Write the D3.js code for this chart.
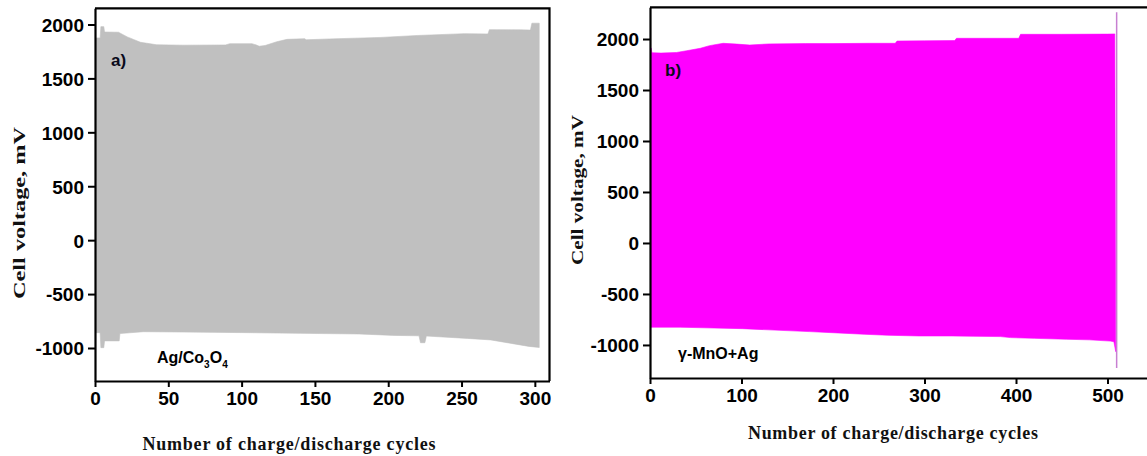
<!DOCTYPE html>
<html>
<head>
<meta charset="utf-8">
<script src="https://cdn.jsdelivr.net/npm/d3@7"></script>
<style>
  html, body { margin: 0; padding: 0; background: #fff; }
  svg { display: block; }
</style>
</head>
<body>
<div id="chart"></div>
<script>
// ---- data ----
// panel a) Ag/Co3O4 : upper and lower envelope of the cycling curve
const cyclesUpperA = [0, 3.5, 4, 6, 6.5, 16, 22, 31, 42, 60, 89, 92, 107, 110, 112, 116, 124, 131, 143, 144, 160, 195, 220, 252, 268, 269, 290, 297, 298, 303];
const voltUpperA   = [1875, 1875, 1980, 1980, 1930, 1928, 1885, 1835, 1812, 1808, 1810, 1822, 1822, 1810, 1798, 1805, 1840, 1862, 1868, 1858, 1866, 1880, 1898, 1915, 1912, 1952, 1950, 1948, 2012, 2012];
const cyclesLowerA = [0, 3.5, 4, 6, 6.5, 16.5, 17, 33, 60, 106, 140, 180, 204, 221, 222, 225, 226, 254, 270, 283, 296, 303];
const voltLowerA   = [-858, -858, -997, -997, -934, -934, -866, -849, -852, -858, -864, -870, -883, -887, -951, -951, -889, -911, -925, -955, -985, -995];

// panel b) gamma-MnO+Ag
const cyclesUpperB = [0, 1.5, 2, 12, 29, 40, 55, 65, 80, 95, 109, 130, 170, 200, 240, 268, 270, 300, 333, 335, 380, 403, 405, 450, 500, 508];
const voltUpperB   = [1909, 1909, 1866, 1862, 1868, 1885, 1909, 1935, 1958, 1950, 1941, 1952, 1955, 1955, 1958, 1958, 1980, 1982, 1985, 2007, 2007, 2007, 2046, 2046, 2048, 2050];
const cyclesLowerB = [0, 33, 60, 101, 130, 174, 200, 234, 260, 294, 330, 354, 383, 394, 420, 455, 480, 503, 507, 509];
const voltLowerB   = [-826, -826, -832, -840, -852, -869, -880, -895, -905, -912, -912, -915, -918, -928, -935, -944, -950, -962, -968, -1066];
// last cycle of panel b) (thin spike)
const spikeCycleB = 510;
const spikeVoltB  = [-1225, 2262];

// ticks
const yTicks  = [-1000, -500, 0, 500, 1000, 1500, 2000];
const xTicksA = [0, 50, 100, 150, 200, 250, 300];
const xTicksB = [0, 100, 200, 300, 400, 500];

const xTitle = "Number of charge/discharge cycles";
const yTitle = "Cell voltage, mV";

// ---- drawing ----
const W = 1147, H = 456;
const svg = d3.select("#chart").append("svg")
    .attr("width", W).attr("height", H);

const tickFont = "'Liberation Sans', Arial, sans-serif";
const titleFont = "'Liberation Serif', 'Times New Roman', serif";
const fmt = d => String(d);

// upper envelope left->right, then lower envelope right->left : one closed shape
function envelope(cu, vu, cl, vl) {
    const up = cu.map((c, i) => [c, vu[i]]);
    const lo = cl.map((c, i) => [c, vl[i]]).reverse();
    return up.concat(lo);
}

function drawPanel(p) {
    const x = d3.scaleLinear().domain(p.xDomain).range(p.xRange);
    const y = d3.scaleLinear().domain(p.yDomain).range(p.yRange);
    const g = svg.append("g");

    const clipId = "clip-" + p.id;
    svg.append("clipPath").attr("id", clipId)
        .append("rect")
        .attr("x", p.xRange[0]).attr("y", p.yRange[1])
        .attr("width", p.xRange[1] - p.xRange[0])
        .attr("height", p.yRange[0] - p.yRange[1]);

    const line = d3.line().x(d => x(d[0])).y(d => y(d[1]));
    g.append("path")
        .datum(envelope(p.cu, p.vu, p.cl, p.vl))
        .attr("clip-path", `url(#${clipId})`)
        .attr("fill", p.color)
        .attr("stroke", p.color)
        .attr("stroke-width", 0.6)
        .attr("d", d => line(d) + "Z");

    if (p.spike) {
        g.append("line")
            .attr("x1", x(p.spike.cycle)).attr("x2", x(p.spike.cycle))
            .attr("y1", y(p.spike.v[0])).attr("y2", y(p.spike.v[1]))
            .attr("stroke", p.spike.color)
            .attr("stroke-width", 1.5);
    }

    // frame (top and right)
    g.append("path")
        .attr("d", `M${p.xRange[0]},${p.yRange[1]}H${p.xRange[1]}V${p.yRange[0]}`)
        .attr("fill", "none").attr("stroke", "#000").attr("stroke-width", 2.2);

    const xAxis = g.append("g")
        .attr("transform", `translate(0,${p.yRange[0]})`)
        .call(d3.axisBottom(x).tickValues(p.xTicks).tickFormat(fmt)
            .tickSize(6).tickSizeOuter(0).tickPadding(5));
    const yAxis = g.append("g")
        .attr("transform", `translate(${p.xRange[0]},0)`)
        .call(d3.axisLeft(y).tickValues(yTicks).tickFormat(fmt)
            .tickSize(7).tickSizeOuter(0).tickPadding(4));

    [xAxis, yAxis].forEach(a => {
        a.select(".domain").attr("stroke", "#000").attr("stroke-width", 2.2);
        a.selectAll(".tick line").attr("stroke", "#000").attr("stroke-width", 2);
        a.selectAll(".tick text")
            .attr("fill", "#000")
            .style("font-family", tickFont)
            .style("font-weight", "bold")
            .style("font-size", "19px");
    });
    yAxis.selectAll(".tick text").attr("dy", "0.36em");

    // axis titles
    g.append("text")
        .attr("x", p.xTitle[0]).attr("y", p.xTitle[1])
        .attr("text-anchor", "middle")
        .attr("textLength", p.xTitle[2])
        .attr("lengthAdjust", "spacing")
        .style("font-family", titleFont).style("font-weight", "bold").style("font-size", "18px")
        .attr("fill", "#111")
        .text(xTitle);

    g.append("text")
        .attr("transform", `translate(${p.yTitle[0]},${p.yTitle[1]}) rotate(-90)`)
        .attr("text-anchor", "middle")
        .attr("dy", "0.35em")
        .attr("textLength", p.yTitle[2])
        .attr("lengthAdjust", "spacingAndGlyphs")
        .style("font-family", titleFont).style("font-weight", "bold").style("font-size", "17px")
        .attr("fill", "#111")
        .text(yTitle);

    // panel letter
    g.append("text")
        .attr("x", p.letter[0]).attr("y", p.letter[1])
        .style("font-family", tickFont).style("font-weight", "bold").style("font-size", "17px")
        .attr("fill", "#0a0a1a")
        .text(p.letter[2]);

    // sample name
    const t = g.append("text")
        .attr("x", p.name[0]).attr("y", p.name[1])
        .style("font-family", tickFont).style("font-weight", "bold").style("font-size", "16px")
        .attr("fill", "#000");
    p.name[2].forEach(part => {
        const ts = t.append("tspan").text(part.t);
        if (part.sub) ts.attr("dy", 5).style("font-size", "10px");
        else if (part.back) ts.attr("dy", -5);
    });
}

drawPanel({
    id: "a",
    xDomain: [0, 310], xRange: [95, 549.5],
    yDomain: [-1306, 2150], yRange: [381, 8.3],
    xTicks: xTicksA,
    cu: cyclesUpperA, vu: voltUpperA, cl: cyclesLowerA, vl: voltLowerA,
    color: "#c0c0c0",
    xTitle: [289, 450, 293],
    yTitle: [19, 213, 172],
    letter: [111, 66, "a)"],
    name: [157, 363, [{t: "Ag/Co"}, {t: "3", sub: true}, {t: "O", back: true}, {t: "4", sub: true}]]
});

drawPanel({
    id: "b",
    xDomain: [0, 560], xRange: [650, 1162.4],
    yDomain: [-1324, 2311], yRange: [378, 7.3],
    xTicks: xTicksB,
    cu: cyclesUpperB, vu: voltUpperB, cl: cyclesLowerB, vl: voltLowerB,
    color: "#ff00ff",
    spike: {cycle: spikeCycleB, v: spikeVoltB, color: "#c77fd1"},
    xTitle: [893, 439, 290],
    yTitle: [577, 190, 150],
    letter: [665, 76, "b)"],
    name: [678, 359, [{t: "\u03b3-MnO+Ag"}]]
});
</script>
</body>
</html>
